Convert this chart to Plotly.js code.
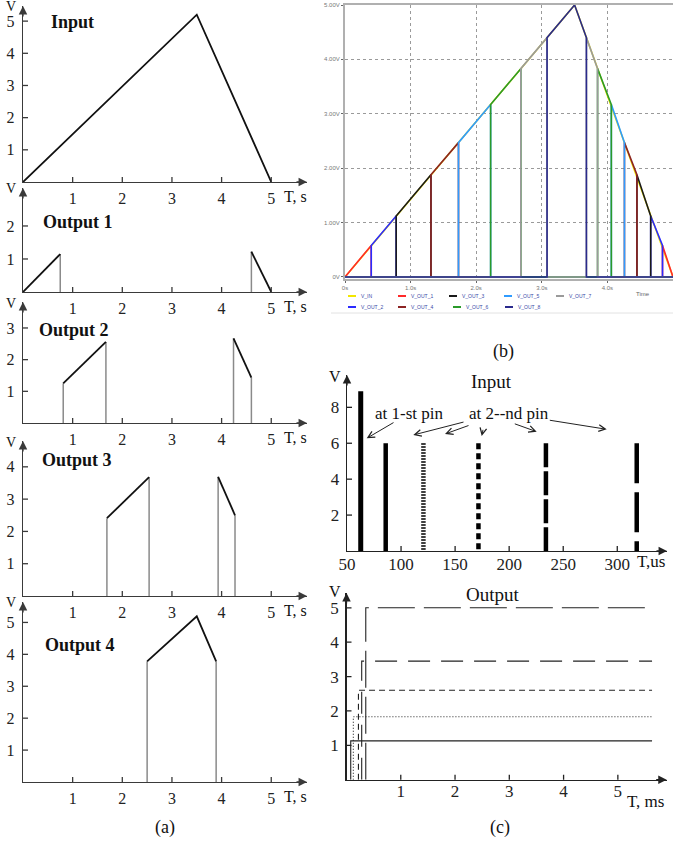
<!DOCTYPE html>
<html><head><meta charset="utf-8">
<script src="https://cdn.plot.ly/plotly-3.0.1.min.js"></script>
<style>html,body{margin:0;padding:0;background:#fff}#chart{width:673px;height:846px}</style>
</head><body><div id="chart"></div>
<script>
// ---------------- DATA ----------------
// Panel (a)
const aTicksX = [1, 2, 3, 4, 5];
const aInputT = [0, 3.5, 5];
const aInputV = [0, 5.2, 0];
const out1T = [0, 0.75, null, 4.6, 5.0];
const out1V = [0, 1.15, null, 1.22, 0];
const out2T = [0.81, 1.67, null, 4.24, 4.6];
const out2V = [1.25, 2.56, null, 2.67, 1.43];
const out3T = [1.69, 2.54, null, 3.93, 4.27];
const out3V = [2.41, 3.68, null, 3.69, 2.5];
const out4T = [2.5, 3.5, 3.89];
const out4V = [3.78, 5.19, 3.78];
const aTicksY0 = [1, 2, 3, 4, 5];
const aTicksY1 = [1, 2];
const aTicksY2 = [1, 2, 3];
const aTicksY3 = [1, 2, 3, 4];
const aTicksY4 = [1, 2, 3, 4, 5];
const aTitles = ['Input', 'Output 1', 'Output 2', 'Output 3', 'Output 4'];

// Panel (b)
const bNames = ['V_IN', 'V_OUT_1', 'V_OUT_2', 'V_OUT_3', 'V_OUT_4', 'V_OUT_5', 'V_OUT_6', 'V_OUT_7', 'V_OUT_8'];
const bLevels = [0, 0.58, 1.12, 1.88, 2.47, 3.17, 3.83, 4.40];
const bRiseT = [0, 0.40, 0.78, 1.31, 1.73, 2.22, 2.68, 3.08];
const bFallT = [3.68, 3.85, 4.06, 4.26, 4.45, 4.66, 4.84, 5.0];
const bPeak = [3.5, 5.0];
const bEnd = 5.0;
const bTicksX = [0, 1, 2, 3, 4, 5];
const bTickTextX = ['0s', '1.0s', '2.0s', '3.0s', '4.0s', '5.0s'];
const bTicksY = [0, 1, 2, 3, 4, 5];
const bTickTextY = ['0V', '1.00V', '2.00V', '3.00V', '4.00V', '5.00V'];

// Panel (c)
const cInT = [62.7, 85.8, 120.7, 171.6, 234, 318];
const cInV = [8.9, 6, 6, 6, 6, 6];
const cInTicksX = [50, 100, 150, 200, 250, 300];
const cInTicksY = [2, 4, 6, 8];
const cOutT = [0.078, 0.126, 0.22, 0.28, 0.355];
const cOutV = [1.13, 1.83, 2.6, 3.45, 5.0];
const cOutEnd = 5.63;
const cOutTicksX = [1, 2, 3, 4, 5];
const cOutTicksY = [1, 2, 3, 4, 5];

// ---------------- STYLE / LAYOUT ----------------
const W = 673, H = 846;
const FONT = 'Liberation Serif, Times New Roman, serif';
const SANS = 'Liberation Sans, Arial, sans-serif';
const px2x = p => p / W;
const px2y = p => 1 - p / H;
const axName = n => (n === 1 ? '' : String(n));

const layout = {
  width: W, height: H, margin: {l: 0, r: 0, t: 0, b: 0},
  paper_bgcolor: '#ffffff', plot_bgcolor: 'rgba(0,0,0,0)',
  showlegend: false, font: {family: FONT},
  shapes: [], annotations: []
};
const traces = [];

function addAxes(n, xd, yd, xr, yr, xo, yo) {
  layout['xaxis' + axName(n)] = Object.assign({
    domain: [px2x(xd[0]), px2x(xd[1])], range: xr, anchor: 'y' + axName(n),
    showgrid: false, zeroline: false, fixedrange: true
  }, xo);
  layout['yaxis' + axName(n)] = Object.assign({
    domain: [px2y(yd[1]), px2y(yd[0])], range: yr, anchor: 'x' + axName(n),
    showgrid: false, zeroline: false, fixedrange: true
  }, yo);
}
function txt(x, y, text, size, o) {
  layout.annotations.push(Object.assign({
    xref: 'paper', yref: 'paper', x: px2x(x), y: px2y(y), text: text, showarrow: false,
    font: {family: FONT, size: size, color: '#111'}, xanchor: 'center', yanchor: 'middle'
  }, o || {}));
}
function crossTicks(n, xt, yt, color) {
  xt.forEach(k => layout.shapes.push({type: 'line', xref: 'x' + axName(n), yref: 'y' + axName(n),
    ysizemode: 'pixel', yanchor: 0, x0: k, x1: k, y0: -5, y1: 5, line: {color: color, width: 1.3}}));
  yt.forEach(k => layout.shapes.push({type: 'line', xref: 'x' + axName(n), yref: 'y' + axName(n),
    xsizemode: 'pixel', xanchor: layout['xaxis' + axName(n)].range[0], x0: -5, x1: 5, y0: k, y1: k,
    line: {color: color, width: 1.3}}));
}
function axisArrows(n, color) {
  const xa = layout['xaxis' + axName(n)], ya = layout['yaxis' + axName(n)];
  const base = {xref: 'x' + axName(n), yref: 'y' + axName(n), text: '', showarrow: true,
    arrowhead: 2, arrowsize: 1.3, arrowwidth: 1.3, arrowcolor: color, axref: 'pixel', ayref: 'pixel'};
  layout.annotations.push(Object.assign({}, base, {x: xa.range[1], y: ya.range[0], ax: -12, ay: 0}));
  layout.annotations.push(Object.assign({}, base, {x: xa.range[0], y: ya.range[1], ax: 0, ay: 12}));
}
function edges(T, V) {
  const x = [], y = [];
  let seg = [];
  const flush = () => {
    if (seg.length) {
      const f = seg[0], l = seg[seg.length - 1];
      x.push(T[f], T[f], null, T[l], T[l], null);
      y.push(0, V[f], null, V[l], 0, null);
    }
    seg = [];
  };
  T.forEach((t, i) => { if (t === null) flush(); else seg.push(i); });
  flush();
  return {x, y};
}

// ---------- Panel (a) ----------
const aPanels = [
  {top: 6, bot: 182, ymax: 5.47, yt: aTicksY0, T: aInputT, V: aInputV, title: [72, 22], vy: 6},
  {top: 188, bot: 292, ymax: 3.15, yt: aTicksY1, T: out1T, V: out1V, title: [78, 222], vy: 189},
  {top: 302, bot: 423, ymax: 3.82, yt: aTicksY2, T: out2T, V: out2V, title: [74, 330], vy: 303},
  {top: 441, bot: 596, ymax: 4.8, yt: aTicksY3, T: out3T, V: out3V, title: [77, 460], vy: 442},
  {top: 602, bot: 782, ymax: 5.64, yt: aTicksY4, T: out4T, V: out4V, title: [80, 645], vy: 602}
];
const AX = '#3a3a3a';
aPanels.forEach((p, i) => {
  const n = i + 1;
  const tf = {family: FONT, size: 16, color: '#222'};
  addAxes(n, [23, 307], [p.top, p.bot], [0, 5.72], [0, p.ymax],
    {showline: true, linecolor: AX, linewidth: 1.4, ticks: '', tickvals: aTicksX,
     ticktext: aTicksX.map(String), tickfont: tf, ticklabelstandoff: 1},
    {showline: true, linecolor: AX, linewidth: 1.4, ticks: '', tickvals: p.yt,
     ticktext: p.yt.map(String), tickfont: tf, ticklabelstandoff: 4});
  if (i > 0) {
    const e = edges(p.T, p.V);
    traces.push({type: 'scatter', mode: 'lines', x: e.x, y: e.y, xaxis: 'x' + axName(n), yaxis: 'y' + axName(n),
      line: {color: '#8a8a8a', width: 1.5}, showlegend: false, hoverinfo: 'skip'});
  }
  traces.push({type: 'scatter', mode: 'lines', x: p.T, y: p.V, xaxis: 'x' + axName(n), yaxis: 'y' + axName(n),
    line: {color: '#111', width: 1.8}, showlegend: false, hoverinfo: 'skip', connectgaps: false});
  crossTicks(n, aTicksX, p.yt, AX);
  axisArrows(n, AX);
  txt(p.title[0], p.title[1], '<b>' + aTitles[i] + '</b>', 18);
  txt(11, p.vy, 'V', 14);
  txt(295, p.bot + 14, 'T, s', 16);
});
txt(165, 827, '(a)', 18);

// ---------- Panel (b) ----------
const bColors = ['#f2e600', '#ff2a2a', '#2b2bff', '#1a1a1a', '#8c2424', '#2f9bff', '#2a9a2a', '#9a9a9a', '#2a2a8c'];
addAxes(6, [345, 673], [5, 278.6], [0, 5.0], [-0.03, 5.0],
  {showline: true, mirror: true, linecolor: '#b0b0b0', linewidth: 2, showgrid: true, gridcolor: '#9a9a9a',
   griddash: 'dot', gridwidth: 1, ticks: 'outside', ticklen: 2, tickcolor: '#666',
   tickvals: bTicksX, ticktext: bTickTextX, tickfont: {family: SANS, size: 6, color: '#777'}},
  {showline: true, mirror: true, linecolor: '#b0b0b0', linewidth: 2, showgrid: true, gridcolor: '#9a9a9a',
   griddash: 'dot', gridwidth: 1, ticks: 'outside', ticklen: 2, tickcolor: '#666',
   tickvals: bTicksY, ticktext: bTickTextY, tickfont: {family: SANS, size: 6, color: '#777'}});
// V_IN
traces.push({type: 'scatter', mode: 'lines', name: bNames[0], x: [0, bPeak[0], bEnd], y: [0, bPeak[1], 0],
  xaxis: 'x6', yaxis: 'y6', line: {color: bColors[0], width: 1.6}, hoverinfo: 'skip'});
for (let i = 0; i < 8; i++) {
  let x, y;
  const lo = bLevels[i];
  if (i < 7) {
    const hi = bLevels[i + 1], rs = bRiseT[i], re = bRiseT[i + 1], fs = bFallT[6 - i], fe = bFallT[7 - i];
    x = [0, rs, rs, re, re, fs, fs, fe, fe, bEnd];
    y = [0, 0, lo, hi, 0, 0, hi, lo, 0, 0];
  } else {
    const rs = bRiseT[7], fs = bFallT[0];
    x = [0, rs, rs, bPeak[0], fs, fs, bEnd];
    y = [0, 0, lo, bPeak[1], lo, 0, 0];
  }
  const k = i + 1;
  traces.push({type: 'scatter', mode: 'lines', name: bNames[k], x: x, y: y, xaxis: 'x6', yaxis: 'y6',
    line: {color: bColors[k], width: 1.6}, hoverinfo: 'skip'});
}
// legend of panel (b): two rows, small samples
const legRow1 = [0, 1, 3, 5, 7], legRow2 = [2, 4, 6, 8];
const legX1 = [348, 398, 449, 504, 556], legX2 = [348, 398, 453, 505];
function legEntry(k, x, y) {
  layout.shapes.push({type: 'line', xref: 'paper', yref: 'paper', x0: px2x(x), x1: px2x(x + 8),
    y0: px2y(y), y1: px2y(y), line: {color: bColors[k], width: 2}});
  txt(x + 11, y, bNames[k], 5, {xanchor: 'left', font: {family: SANS, size: 5, color: '#3a4aa8'}});
}
legRow1.forEach((k, j) => legEntry(k, legX1[j], 296));
legRow2.forEach((k, j) => legEntry(k, legX2[j], 307));
layout.shapes.push({type: 'line', xref: 'paper', yref: 'paper', x0: px2x(331), x1: 1,
  y0: px2y(313), y1: px2y(313), line: {color: '#e2e2e2', width: 1}});
txt(643, 294, 'Time', 6, {font: {family: SANS, size: 6, color: '#666'}});
txt(503, 352, '(b)', 18);

// ---------- Panel (c) Input ----------
const CA = '#222';
const ctf = {family: FONT, size: 17, color: '#222'};
addAxes(7, [347, 667], [375, 551], [50, 346], [0, 9.8],
  {showline: true, linecolor: CA, linewidth: 1.4, ticks: '', tickvals: cInTicksX,
   ticktext: cInTicksX.map(String), tickfont: ctf, ticklabelstandoff: -3},
  {showline: true, linecolor: CA, linewidth: 1.4, ticks: '', tickvals: cInTicksY,
   ticktext: cInTicksY.map(String), tickfont: ctf, ticklabelstandoff: 3});
const cInDash = ['solid', 'solid', '1.5px,1.5px', '6px,4px', '24px,4px', '40px,9px'];
cInT.forEach((t, i) => {
  traces.push({type: 'scatter', mode: 'lines', x: [t, t], y: [cInV[i], 0], xaxis: 'x7', yaxis: 'y7',
    line: {color: '#000', width: i === 0 ? 5 : 4.5, dash: cInDash[i]}, showlegend: false, hoverinfo: 'skip'});
});
crossTicks(7, cInTicksX.slice(1), cInTicksY, CA);
axisArrows(7, CA);
txt(492, 381, 'Input', 19);
txt(335, 376, 'V', 16);
txt(651, 561, 'T,us', 17);
txt(409, 413, 'at 1-st pin', 17);
txt(509, 413, 'at 2--nd pin', 17);
const cArrows = [
  [366.7, 438.3, 395, 421.7], [413.3, 435, 465, 421.7], [445, 434, 470, 425],
  [481.7, 436, 483.3, 428.3], [536.7, 431.7, 513.3, 423.3], [606.7, 429.3, 548.3, 420]
];
cArrows.forEach(a => layout.annotations.push({xref: 'paper', yref: 'paper', x: px2x(a[0]), y: px2y(a[1]),
  ax: a[2] - a[0], ay: a[3] - a[1], axref: 'pixel', ayref: 'pixel', text: '', showarrow: true,
  arrowhead: 5, arrowsize: 1.3, arrowwidth: 1, arrowcolor: '#222'}));

// ---------- Panel (c) Output ----------
addAxes(8, [346.5, 666.7], [593, 779.7], [0, 5.9], [0, 5.43],
  {showline: true, linecolor: CA, linewidth: 1.4, ticks: '', tickvals: cOutTicksX,
   ticktext: cOutTicksX.map(String), tickfont: ctf, ticklabelstandoff: -5},
  {showline: true, linecolor: CA, linewidth: 1.4, ticks: '', tickvals: cOutTicksY,
   ticktext: cOutTicksY.map(String), tickfont: ctf, ticklabelstandoff: 3});
const cOutDash = ['solid', '1px,2px', '6px,4px', '22px,11px', '37px,9px'];
cOutT.forEach((t, i) => {
  traces.push({type: 'scatter', mode: 'lines', x: [t, t, cOutEnd], y: [0, cOutV[i], cOutV[i]], xaxis: 'x8', yaxis: 'y8',
    line: {color: '#222', width: 1.1, dash: cOutDash[i]}, showlegend: false, hoverinfo: 'skip'});
});
crossTicks(8, cOutTicksX, cOutTicksY, CA);
axisArrows(8, CA);
txt(492.7, 594, 'Output', 19);
txt(335, 591, 'V', 16);
txt(645, 801, 'T, ms', 17);
txt(500, 827, '(c)', 18);

Plotly.newPlot('chart', traces, layout, {staticPlot: true, displayModeBar: false});
</script>
</body></html>
